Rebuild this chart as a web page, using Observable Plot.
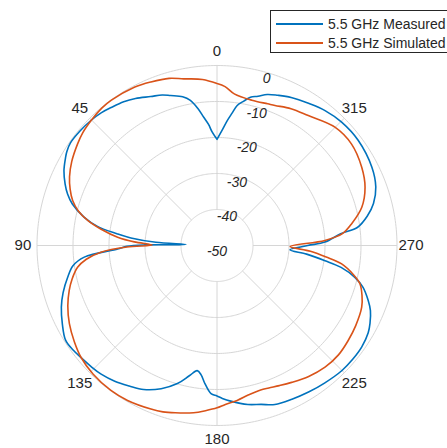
<!DOCTYPE html>
<html>
<head>
<meta charset="utf-8">
<script src="https://cdn.jsdelivr.net/npm/d3@7"></script>
<script src="https://cdn.jsdelivr.net/npm/@observablehq/plot@0.6"></script>
<style>
  html, body { margin: 0; padding: 0; background: #fff; overflow: hidden; }
  #wrap { position: relative; width: 447px; height: 448px; overflow: hidden; }
  #legend { position: absolute; left: 270px; top: 10px; width: 200px; height: 41px;
    border: 1px solid #262626; background: #fff; font-family: "Liberation Sans", Arial, sans-serif;
    font-size: 14px; color: #262626; }
  .row { position: absolute; left: 0; height: 18px; display: flex; align-items: center; white-space: nowrap; }
  .sw { width: 47px; height: 2px; margin-left: 5px; margin-right: 5px; }
</style>
</head>
<body>
<div id="wrap"><div id="chart"></div><div id="legend"></div></div>
<script>
// ---- data (theta in degrees, counter-clockwise from top; values in dB) ----
const seriesNames = ["5.5 GHz Measured", "5.5 GHz Simulated"];
const seriesColors = ["#0072BD", "#D95319"];

const measTheta = [0, 2.4, 4, 5.9, 8, 10.4, 13, 17.2, 20, 24, 29, 33, 37.5, 41, 45, 50, 55, 58, 60, 64, 68, 71, 74, 78, 81, 83.3, 85, 87, 88.3, 89.5, 90.5, 92, 95, 98, 102, 107, 111.6, 117, 122, 126, 130, 134, 138, 143, 148, 153, 158.7, 164, 168, 171, 173, 175, 177.7, 180, 182, 185, 191, 195.5, 200, 206, 212, 218, 225, 230, 235, 240, 243, 247, 250, 254, 257, 260, 262, 264.5, 266.6, 270, 271.8, 275.4, 277.4, 281, 285, 290.2, 296.8, 306.7, 314.7, 321.3, 327, 333.4, 338, 341.6, 344.6, 347.3, 349.5, 351.8, 353.5, 355.3, 357.5, 360];
const measDb = [-20.5, -18.5, -16.3, -14.2, -11.5, -9.0, -7.6, -6.4, -5.5, -4.7, -3.3, -2.4, -1.7, -1.1, -0.7, -0.4, -0.3, -0.8, -1.4, -2.7, -4.5, -6.1, -8.2, -12.3, -16.5, -22, -26, -33, -41.4, -30, -25, -22.4, -13, -9.6, -7.6, -5.3, -3.5, -1.8, -0.4, -0.6, -1.1, -1.5, -1.9, -2.8, -4.0, -5.1, -7.3, -10.1, -13.0, -14.8, -13.8, -11.5, -8.8, -8.2, -7.5, -6.6, -5.0, -4.2, -3.0, -2.5, -2.0, -1.5, -0.9, -0.8, -0.9, -1.5, -2.3, -3.7, -5.3, -7.8, -10.7, -15.0, -19.7, -25, -29.7, -24.8, -20, -15.5, -10.6, -7.5, -5.0, -3.0, -1.8, -1.1, -1.3, -2.0, -3.0, -4.0, -5.0, -5.8, -7.0, -7.8, -9.2, -10.7, -13, -15.2, -18, -20.5];

const simTheta = [0, 5, 11.3, 16, 22, 27.6, 36, 40, 45, 50, 54, 60, 65, 69, 72.7, 76, 79, 82, 85.2, 87.5, 89.5, 91, 93.3, 96, 98.9, 103, 106.9, 112, 117.9, 124, 129.4, 136, 143.8, 150, 158, 162, 166, 172, 176, 180, 183, 187.4, 192, 196.8, 200, 204, 208.6, 215, 221.6, 228, 234, 240, 246.9, 251, 255, 258, 261.6, 264, 266.5, 269.2, 272.7, 275.4, 279.2, 284.8, 291.5, 298.4, 307, 315.1, 324.9, 331.6, 337.5, 340.3, 346.5, 353.5, 357.1, 360];
const simDb = [-5.0, -3.7, -2.8, -1.7, -1.0, -0.4, -0.1, -0.2, -0.7, -1.3, -2.1, -3.4, -4.8, -6.3, -8.0, -10.3, -13.4, -17.5, -22.3, -27, -32, -25, -17.7, -13.5, -10.8, -8.7, -7.1, -5.3, -3.6, -2.2, -1.1, -0.4, -0.1, -0.3, -1.0, -1.4, -2.1, -3.1, -4.0, -4.9, -5.8, -6.6, -7.6, -8.1, -7.9, -7.4, -6.7, -5.6, -4.8, -4.6, -5.0, -5.5, -6.3, -7.4, -8.9, -11.3, -15, -19.5, -24, -29.7, -20, -15, -12.1, -8.4, -5.8, -4.3, -3.2, -3.6, -5.9, -6.8, -7.9, -8.2, -8.5, -7.6, -5.8, -5.0];

const rTicks = [-50, -40, -30, -20, -10, 0];
const thetaTicks = [0, 45, 90, 135, 180, 225, 270, 315];
const rMin = -50, rMax = 0;

// ---- geometry helpers (polar -> unit cartesian, radius 1 = outer ring) ----
const W = 447, H = 448, cx = 216.5, cy = 245, R = 180;
const u = db => (db - rMin) / (rMax - rMin);
const rad = t => t * Math.PI / 180;
const px = (t, db) => -u(db) * Math.sin(rad(t));
const py = (t, db) => u(db) * Math.cos(rad(t));

const meas = measTheta.map((t, i) => ({t, v: measDb[i]}));
const sim = simTheta.map((t, i) => ({t, v: simDb[i]}));

const rings = rTicks.filter(v => v > rMin).flatMap(v =>
  d3.range(0, 361, 1).map(t => ({ring: v, t, v})));

const textColor = "#262626";
const gridColor = "#d6d6d6";

const chart = Plot.plot({
  width: W, height: H, margin: 0,
  style: {fontFamily: "'Liberation Sans', Arial, sans-serif", background: "#fff", overflow: "visible"},
  x: {domain: [-cx / R, (W - cx) / R], range: [0, W], axis: null},
  y: {domain: [cy / R, -(H - cy) / R], range: [0, H], axis: null},
  marks: [
    Plot.line(rings, {x: d => px(d.t, d.v), y: d => py(d.t, d.v), z: "ring", stroke: gridColor, strokeWidth: 1}),
    Plot.link(thetaTicks, {x1: t => px(t, -40), y1: t => py(t, -40), x2: t => px(t, rMax), y2: t => py(t, rMax), stroke: gridColor, strokeWidth: 1}),
    Plot.line(meas, {x: d => px(d.t, d.v), y: d => py(d.t, d.v), stroke: seriesColors[0], strokeWidth: 1.6, curve: "catmull-rom"}),
    Plot.line(sim, {x: d => px(d.t, d.v), y: d => py(d.t, d.v), stroke: seriesColors[1], strokeWidth: 1.6, curve: "catmull-rom"}),
    Plot.text(thetaTicks, {x: t => px(t, rMax) * 1.078, y: t => py(t, rMax) * 1.078, text: t => String(t), fontSize: 15, fill: textColor}),
    Plot.text(rTicks, {x: v => px(344, v), y: v => py(344, v), dy: 6, text: v => String(v), fontSize: 14, fontStyle: "italic", fill: textColor})
  ]
});
document.getElementById("chart").appendChild(chart);

// ---- legend ----
const legend = document.getElementById("legend");
seriesNames.forEach((name, i) => {
  const row = document.createElement("div");
  row.className = "row";
  row.style.top = (i === 0 ? 4 : 23) + "px";
  const sw = document.createElement("span");
  sw.className = "sw";
  sw.style.background = seriesColors[i];
  const tx = document.createElement("span");
  tx.textContent = name;
  row.appendChild(sw); row.appendChild(tx);
  legend.appendChild(row);
});
</script>
</body>
</html>
